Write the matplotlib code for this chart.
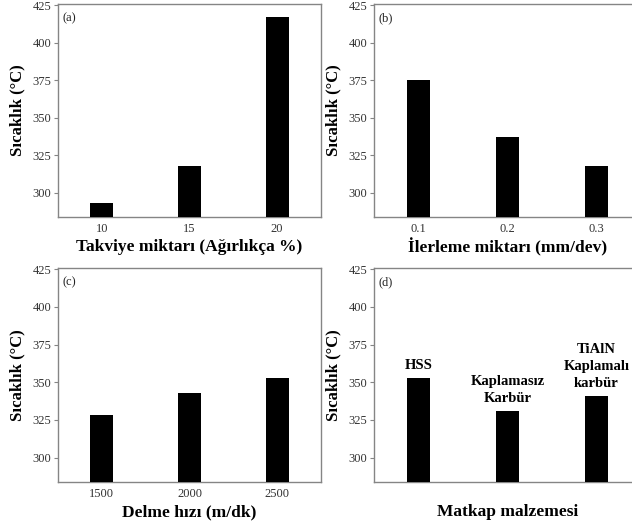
import matplotlib
matplotlib.use("Agg")
import matplotlib.pyplot as plt

plt.rcParams['font.family'] = ['Liberation Serif', 'DejaVu Serif']

# Data
cats_a = ["10", "15", "20"]
vals_a = [293, 318, 417]
cats_b = ["0.1", "0.2", "0.3"]
vals_b = [375, 337, 318]
cats_c = ["1500", "2000", "2500"]
vals_c = [328, 343, 353]
cats_d = ["HSS", "Kaplamasız\nKarbür", "TiAlN\nKaplamalı\nkarbür"]
vals_d = [353, 331, 341]

xlabels = ["Takviye miktarı (Ağırlıkça %)", "İlerleme miktarı (mm/dev)",
           "Delme hızı (m/dk)", "Matkap malzemesi"]
panel_tags = ["(a)", "(b)", "(c)", "(d)"]
yticks = [300, 325, 350, 375, 400, 425]

W, H = 632, 527
fig = plt.figure(figsize=(W / 100, H / 100), dpi=100)

def px_axes(left, right, top, bottom):
    return fig.add_axes([left / W, 1 - bottom / H, (right - left) / W, (bottom - top) / H])

axes = [
    px_axes(58, 321, 4, 217),
    px_axes(374, 641, 4, 217),
    px_axes(58, 321, 268, 482),
    px_axes(374, 641, 268, 482),
]

data = [(cats_a, vals_a), (cats_b, vals_b), (cats_c, vals_c), (cats_d, vals_d)]
frame_col = "#858585"
tick_col = "#333333"

for i, (ax, (cats, vals)) in enumerate(zip(axes, data)):
    pos = list(range(len(cats)))
    ax.bar(pos, vals, width=0.26, color="black", zorder=3)
    ax.set_xlim(-0.5, 2.5)
    ax.set_ylim(283.8, 425.8)
    ax.set_yticks(yticks)
    ax.set_yticklabels([str(t) for t in yticks], fontsize=9, color=tick_col)
    ax.set_xticks(pos)
    if i < 3:
        ax.set_xticklabels(cats, fontsize=9, color=tick_col)
    else:
        ax.set_xticklabels([""] * 3)
        for p, v, c in zip(pos, vals, cats):
            ax.annotate(c, xy=(p, v), xytext=(0, 4), textcoords="offset points",
                        ha="center", va="bottom", fontsize=10.5, fontweight="bold",
                        linespacing=1.4, annotation_clip=False)
    ax.tick_params(axis="x", length=0, pad=4)
    ax.tick_params(axis="y", length=3, width=0.8, color=frame_col, direction="out", pad=2)
    for s in ax.spines.values():
        s.set_color(frame_col)
        s.set_linewidth(1.0)
    ax.set_ylabel("Sıcaklık (°C)", fontsize=12, fontweight="bold")
    ax.yaxis.set_label_coords(-33 / 263 if i % 2 == 0 else -33 / 267, 0.5)
    ax.set_xlabel(xlabels[i], fontsize=12.5, fontweight="bold")
    ax.xaxis.set_label_coords(0.5, -30 / 213)
    ax.xaxis.label.set_va("center")
    ax.text(0.018, 0.96, panel_tags[i], transform=ax.transAxes, fontsize=9,
            ha="left", va="top", color="#222222")

fig.savefig("out.png", dpi=100)
